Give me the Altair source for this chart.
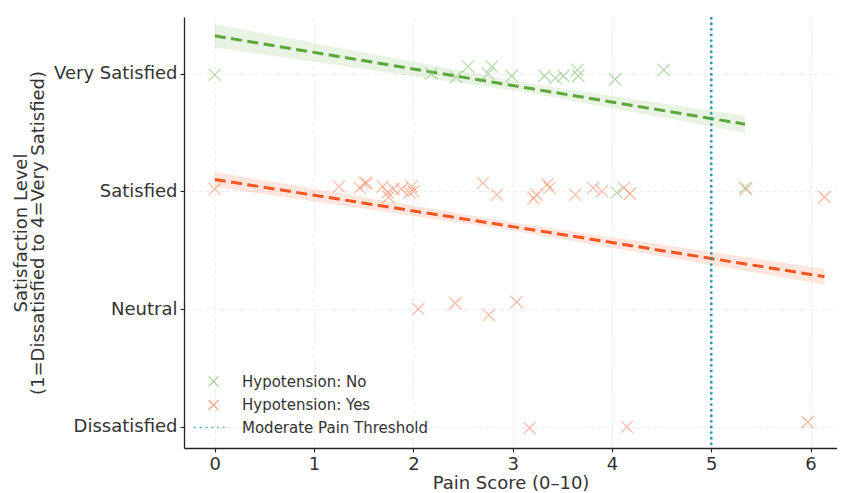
import altair as alt
import pandas as pd

# ---- data ----
no_x = [0.0, 2.18, 2.43, 2.55, 2.75, 2.79, 2.99, 3.32, 3.43, 3.51, 3.65, 3.66, 4.03, 4.52, 4.05, 5.34]
no_y = [3.99, 4.00, 3.97, 4.06, 4.00, 4.06, 3.98, 3.98, 3.96, 3.98, 4.03, 3.98, 3.95, 4.03, 2.99, 3.03]

yes_x = [0.0, 1.25, 1.46, 1.51, 1.53, 1.69, 1.74, 1.75, 1.80, 1.88, 1.96, 1.98, 2.00,
         2.70, 2.84, 3.21, 3.24, 3.35, 3.37, 3.63, 3.81, 3.90, 4.12, 4.18, 5.35, 6.14,
         2.05, 2.42, 2.76, 3.04, 3.17, 4.15, 5.97]
yes_y = [3.02, 3.04, 3.03, 3.07, 3.07, 3.04, 2.99, 2.95, 3.02, 3.02, 2.99, 3.04, 3.00,
         3.07, 2.97, 2.94, 2.97, 3.06, 3.03, 2.97, 3.03, 3.00, 3.03, 2.98, 3.02, 2.95,
         2.00, 2.05, 1.95, 2.06, 0.99, 1.00, 1.04]

# fitted lines and confidence bands
fit_no_x = [0.0, 3.2, 5.34]
fit_no_y = [4.32, 3.87, 3.57]
fit_no_half = [0.098, 0.04, 0.072]

fit_yes_x = [0.0, 3.0, 6.14]
fit_yes_y = [3.10, 2.70, 2.275]
fit_yes_half = [0.064, 0.035, 0.068]

threshold = [5]

groups = ["Hypotension: No", "Hypotension: Yes", "Moderate Pain Threshold"]
tick_vals = [1, 2, 3, 4]
tick_labels = ["Dissatisfied", "Neutral", "Satisfied", "Very Satisfied"]

GREEN_PT = "#84c271"
ORANGE_PT = "#f98a62"
GREEN_LN = "#5aa83a"
ORANGE_LN = "#f5561f"
TEAL = "#1a98a3"

pts = pd.concat([
    pd.DataFrame({"x": no_x, "y": no_y, "group": groups[0]}),
    pd.DataFrame({"x": yes_x, "y": yes_y, "group": groups[1]}),
])

fit_no = pd.DataFrame({"x": fit_no_x, "y": fit_no_y,
                       "lo": [a - b for a, b in zip(fit_no_y, fit_no_half)],
                       "hi": [a + b for a, b in zip(fit_no_y, fit_no_half)]})
fit_yes = pd.DataFrame({"x": fit_yes_x, "y": fit_yes_y,
                        "lo": [a - b for a, b in zip(fit_yes_y, fit_yes_half)],
                        "hi": [a + b for a, b in zip(fit_yes_y, fit_yes_half)]})
thr = pd.DataFrame({"x": threshold})

X_PATH = "M-1,-1L1,1M1,-1L-1,1"
dots = "".join(f"M{-3.9 + i * 1.15:.2f},0L{-3.9 + i * 1.15 + 0.4:.2f},0" for i in range(6))

xscale = alt.Scale(domain=[-0.31, 6.266], nice=False, zero=False)
yscale = alt.Scale(domain=[0.82, 4.48], nice=False, zero=False)

label_expr = ("datum.value == 1 ? '" + tick_labels[0] + "' : datum.value == 2 ? '" + tick_labels[1] +
              "' : datum.value == 3 ? '" + tick_labels[2] + "' : '" + tick_labels[3] + "'")

xaxis = alt.Axis(values=[0, 1, 2, 3, 4, 5, 6], title="Pain Score (0–10)", format="d")
yaxis = alt.Axis(values=tick_vals, labelExpr=label_expr,
                 title=["Satisfaction Level", "(1=Dissatisfied to 4=Very Satisfied)"])

band_no = alt.Chart(fit_no).mark_area(color=GREEN_LN, opacity=0.14).encode(
    x=alt.X("x:Q", scale=xscale, axis=xaxis), y=alt.Y("lo:Q", scale=yscale, axis=yaxis), y2="hi:Q")
band_yes = alt.Chart(fit_yes).mark_area(color=ORANGE_LN, opacity=0.15).encode(
    x=alt.X("x:Q", scale=xscale), y=alt.Y("lo:Q", scale=yscale), y2="hi:Q")

line_no = alt.Chart(fit_no).mark_line(color=GREEN_LN, strokeWidth=3, strokeDash=[11, 5.5]).encode(
    x=alt.X("x:Q", scale=xscale), y=alt.Y("y:Q", scale=yscale))
line_yes = alt.Chart(fit_yes).mark_line(color=ORANGE_LN, strokeWidth=3, strokeDash=[11, 5.5]).encode(
    x=alt.X("x:Q", scale=xscale), y=alt.Y("y:Q", scale=yscale))

points = alt.Chart(pts).mark_point(filled=False, size=150, strokeWidth=1.2, opacity=0.6).encode(
    x=alt.X("x:Q", scale=xscale),
    y=alt.Y("y:Q", scale=yscale),
    color=alt.Color("group:N", title=None,
                    scale=alt.Scale(domain=groups, range=[GREEN_PT, ORANGE_PT, TEAL]),
                    legend=alt.Legend(orient="none", legendX=22, legendY=357, padding=0,
                                      symbolSize=100, labelOffset=21, rowPadding=6.5,
                                      symbolStrokeWidth=1.3, symbolOpacity=0.7,
                                      labelFontSize=15, labelColor="#333333", labelLimit=400,
                                      labelFont="DejaVu Sans")),
    shape=alt.Shape("group:N", title=None,
                    scale=alt.Scale(domain=groups, range=[X_PATH, X_PATH, dots])),
)

rule = alt.Chart(thr).mark_rule(color=TEAL, strokeWidth=2.4, strokeDash=[2.4, 3.2]).encode(
    x=alt.X("x:Q", scale=xscale))

chart = alt.layer(band_no, band_yes, line_no, line_yes, points, rule).properties(
    width=653, height=431,
    autosize=alt.AutoSizeParams(type="none"),
    padding={"left": 176, "top": 9, "right": 0, "bottom": 45},
).configure_view(stroke=None).configure_axis(
    grid=True, gridColor="#e8e8e8", gridDash=[4, 3], gridWidth=0.8,
    domainColor="#222222", domainWidth=1.3, tickColor="#222222", tickSize=4, tickWidth=1.1,
    labelFont="DejaVu Sans", labelFontSize=18, labelColor="#333333",
    titleFont="DejaVu Sans", titleFontSize=18, titleFontWeight="normal", titleColor="#333333",
).configure_axisX(titlePadding=1, labelPadding=3).configure_axisY(
    titlePadding=6, labelPadding=3, titleLineHeight=17)

chart.save("out.html", embed_options={"renderer": "svg", "actions": False})
